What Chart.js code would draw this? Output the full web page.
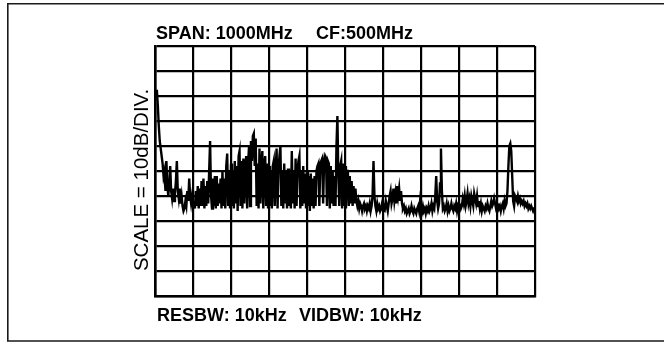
<!DOCTYPE html>
<html>
<head>
<meta charset="utf-8">
<script src="https://cdn.jsdelivr.net/npm/chart.js@4.4.1/dist/chart.umd.min.js"></script>
<style>
  html, body { margin: 0; padding: 0; background: #fff; }
  #wrap { width: 664px; height: 343px; }
</style>
</head>
<body>
<div id="wrap"><canvas id="c" width="664" height="343"></canvas></div>
<script>
// ---- data ----
const SPAN_MHZ = 1000;
const STEP_MHZ = 2.5;          // sweep step between trace samples
const REF_DB = 0;              // top graticule line
const SCALE_DB_PER_DIV = 10;
const DIVISIONS = 10;

// trace level in dB below reference, one sample every 2.5 MHz from 0 to 1000 MHz
const LEVEL_DB = [
  -20, -18, -18, -24, -32, -38, -41, -44, -47, -52,
  -50, -58, -46, -56, -60, -55, -48, -58, -61, -57,
  -62, -59, -54, -46, -58, -61, -57, -63, -60, -64,
  -66, -65, -62, -64, -58, -62, -53, -60, -63, -60,
  -64, -62, -65, -58, -64, -56, -65, -57, -64, -54,
  -64, -53, -65, -56, -64, -54, -63, -50, -38, -60,
  -65, -53, -64, -52, -65, -52, -64, -55, -63, -53,
  -65, -50, -64, -53, -65, -48, -43, -64, -50, -65,
  -47, -64, -50, -65, -46, -63, -48, -66, -44, -42,
  -64, -46, -65, -45, -63, -48, -44, -65, -47, -40,
  -64, -38, -46, -36, -35, -48, -37, -64, -47, -65,
  -41, -63, -47, -42, -65, -48, -44, -64, -47, -65,
  -48, -64, -50, -65, -48, -46, -64, -50, -41, -65,
  -49, -44, -40, -64, -50, -65, -47, -63, -50, -65,
  -49, -64, -51, -65, -42, -63, -50, -65, -45, -64,
  -50, -46, -44, -65, -50, -64, -48, -63, -51, -65,
  -50, -64, -52, -66, -51, -64, -53, -65, -52, -64,
  -50, -48, -47, -64, -47, -46, -45, -63, -46, -44,
  -45, -64, -46, -47, -65, -48, -63, -50, -64, -52,
  -64, -40, -28, -52, -64, -48, -46, -65, -47, -64,
  -48, -65, -50, -50, -64, -52, -63, -54, -64, -56,
  -63, -57, -62, -64, -62, -65, -63, -64, -66, -64,
  -63, -65, -64, -66, -64, -65, -63, -66, -64, -60,
  -46, -60, -64, -66, -63, -65, -64, -66, -65, -63,
  -66, -64, -65, -62, -64, -66, -63, -60, -58, -63,
  -61, -57, -62, -59, -63, -56, -60, -57, -62, -58,
  -63, -65, -64, -66, -65, -67, -66, -65, -67, -66,
  -64, -66, -67, -65, -66, -67, -65, -64, -66, -62,
  -65, -66, -64, -66, -65, -67, -65, -66, -64, -66,
  -65, -63, -66, -64, -65, -60, -52, -62, -65, -63,
  -55, -41, -58, -65, -64, -66, -65, -63, -66, -64,
  -66, -65, -63, -65, -66, -64, -65, -63, -66, -64,
  -65, -63, -65, -64, -61, -63, -60, -64, -62, -59,
  -63, -61, -64, -60, -62, -64, -59, -61, -63, -60,
  -64, -62, -65, -63, -66, -64, -65, -66, -64, -65,
  -63, -65, -66, -64, -62, -64, -63, -61, -63, -65,
  -64, -63, -65, -64, -66, -64, -63, -65, -62, -64,
  -63, -58, -48, -40, -39, -42, -52, -62, -64, -60,
  -61, -62, -60, -62, -61, -63, -62, -63, -62, -64,
  -63, -64, -63, -65, -64, -65, -64, -65, -66, -65,
  -65
];

const TOP_LEFT_TEXT = "SPAN: 1000MHz";
const TOP_RIGHT_TEXT = "CF:500MHz";
const BOTTOM_LEFT_TEXT = "RESBW: 10kHz";
const BOTTOM_RIGHT_TEXT = "VIDBW: 10kHz";
const Y_LABEL = "SCALE = 10dB/DIV.";

const FREQ_MHZ = LEVEL_DB.map((_, i) => i * STEP_MHZ);
const points = FREQ_MHZ.map((f, i) => ({ x: f, y: LEVEL_DB[i] }));

const decor = {
  id: 'decor',
  beforeDraw(chart) {
    const ctx = chart.ctx;
    ctx.save();
    ctx.fillStyle = '#fff';
    ctx.fillRect(0, 0, chart.width, chart.height);
    ctx.strokeStyle = '#1a1a1a';
    ctx.lineWidth = 1.6;
    ctx.beginPath();
    ctx.moveTo(664, 3.8); ctx.lineTo(7.8, 3.8); ctx.lineTo(7.8, 341); ctx.lineTo(664, 341);
    ctx.stroke();
    ctx.restore();
  },
  afterDraw(chart) {
    const ctx = chart.ctx;
    ctx.save();
    ctx.fillStyle = '#000';
    ctx.textBaseline = 'alphabetic';
    ctx.textAlign = 'left';
    ctx.font = 'bold 18px "Liberation Sans", Arial, sans-serif';
    ctx.fillText(TOP_LEFT_TEXT, 156, 39);
    ctx.fillText(TOP_RIGHT_TEXT, 316, 39);
    ctx.fillText(BOTTOM_LEFT_TEXT, 157, 321);
    ctx.fillText(BOTTOM_RIGHT_TEXT, 299, 321);
    ctx.font = '20.5px "Liberation Sans", Arial, sans-serif';
    ctx.translate(148, 180);
    ctx.rotate(-Math.PI / 2);
    ctx.textAlign = 'center';
    ctx.fillText(Y_LABEL, 0, 0);
    ctx.restore();
  }
};

new Chart(document.getElementById('c'), {
  type: 'line',
  data: {
    datasets: [{
      data: points,
      borderColor: '#000',
      borderWidth: 2.4,
      pointRadius: 0,
      tension: 0,
      fill: false
    }]
  },
  options: {
    responsive: false,
    animation: false,
    devicePixelRatio: 1,
    layout: { padding: { left: 155, right: 129, top: 46, bottom: 47 } },
    plugins: { legend: { display: false }, tooltip: { enabled: false } },
    scales: {
      x: {
        type: 'linear',
        min: 0, max: SPAN_MHZ,
        ticks: { display: false, stepSize: SPAN_MHZ / DIVISIONS },
        grid: { color: '#000', lineWidth: 2.2, drawTicks: false },
        border: { display: true, color: '#000', width: 2.6 }
      },
      y: {
        type: 'linear',
        min: REF_DB - SCALE_DB_PER_DIV * DIVISIONS, max: REF_DB,
        ticks: { display: false, stepSize: SCALE_DB_PER_DIV },
        grid: { color: '#000', lineWidth: 2.2, drawTicks: false },
        border: { display: true, color: '#000', width: 2.6 }
      }
    }
  },
  plugins: [decor]
});
</script>
</body>
</html>
